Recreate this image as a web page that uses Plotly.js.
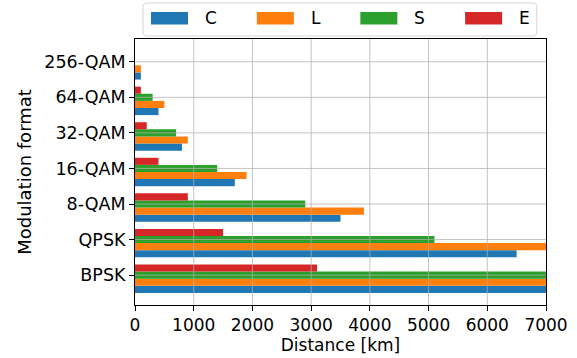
<!DOCTYPE html>
<html>
<head>
<meta charset="utf-8">
<script src="https://cdn.plot.ly/plotly-3.0.1.min.js"></script>
<style>
  html, body { margin: 0; padding: 0; background: #ffffff; }
  #chart { width: 577px; height: 358px; }
</style>
</head>
<body>
<div id="chart"></div>
<script>
// Reach distance per modulation format and transmission band
const formats = ['BPSK', 'QPSK', '8-QAM', '16-QAM', '32-QAM', '64-QAM', '256-QAM'];
const bandNames = ['C', 'L', 'S', 'E'];
const bandColors = ['#1f77b4', '#ff7f0e', '#2ca02c', '#d62728'];
const distC = [8000, 6500, 3500, 1700, 800, 400, 100];
const distL = [8000, 8000, 3900, 1900, 900, 500, 100];
const distS = [8000, 5100, 2900, 1400, 700, 300, 0];
const distE = [3100, 1500, 900, 400, 200, 100, 0];
const xTicks = [0, 1000, 2000, 3000, 4000, 5000, 6000, 7000];

const bandValues = [distC, distL, distS, distE];

const W = 577, H = 358;
const M = { l: 135, r: 31, t: 39, b: 53 };
const FONT = 'DejaVu Sans';
const FS = 17;
const xRange = [0, 7000];
const yRange = [-0.84, 6.64];
const barH = 0.2;

// pixel -> paper helpers (for the hand-laid legend above the axes)
const pw = W - M.l - M.r, ph = H - M.t - M.b;
const fx = px => (px - M.l) / pw;
const fy = py => (H - M.b - py) / ph;

const traces = bandNames.map((name, i) => ({
  type: 'bar',
  orientation: 'h',
  name: name,
  y: formats,
  x: bandValues[i],
  width: barH,
  offset: -0.5 + i * barH,
  marker: { color: bandColors[i], line: { width: 0 } },
  showlegend: false,
  hoverinfo: 'x+y+name'
}));

const shapes = [];
const annotations = [];

// grid drawn over the bars
const gridColor = 'rgba(176,176,176,0.75)';
xTicks.forEach(v => {
  if (v <= xRange[0] || v >= xRange[1]) return;
  shapes.push({ type: 'line', layer: 'above', xref: 'x', yref: 'paper',
    x0: v, x1: v, y0: 0, y1: 1, line: { color: gridColor, width: 1 } });
});
formats.forEach((f, k) => {
  shapes.push({ type: 'line', layer: 'above', xref: 'paper', yref: 'y',
    x0: 0, x1: 1, y0: k, y1: k, line: { color: gridColor, width: 1 } });
});

// legend: rounded frame first, then wide colour patches with labels
const ctx = document.createElement('canvas').getContext('2d');
ctx.font = FS + 'px "' + FONT + '"';
const patchW = 37, patchTop = 12, patchBot = 24.5, textGap = 15, colGap = 42;
const legendItems = [];
let cx = 151;
bandNames.forEach((name, i) => {
  const tx = cx + patchW + textGap;
  legendItems.push({ name: name, color: bandColors[i], px: cx, tx: tx });
  cx = tx + ctx.measureText(name).width + colGap;
});
const bx0 = 143, bx1 = cx - colGap + 9, by0 = 3, by1 = 36, rr = 4;
const rx = v => fx(v).toFixed(5), ry = v => fy(v).toFixed(5);
const framePath =
  'M' + rx(bx0 + rr) + ',' + ry(by0) +
  ' L' + rx(bx1 - rr) + ',' + ry(by0) +
  ' Q' + rx(bx1) + ',' + ry(by0) + ' ' + rx(bx1) + ',' + ry(by0 + rr) +
  ' L' + rx(bx1) + ',' + ry(by1 - rr) +
  ' Q' + rx(bx1) + ',' + ry(by1) + ' ' + rx(bx1 - rr) + ',' + ry(by1) +
  ' L' + rx(bx0 + rr) + ',' + ry(by1) +
  ' Q' + rx(bx0) + ',' + ry(by1) + ' ' + rx(bx0) + ',' + ry(by1 - rr) +
  ' L' + rx(bx0) + ',' + ry(by0 + rr) +
  ' Q' + rx(bx0) + ',' + ry(by0) + ' ' + rx(bx0 + rr) + ',' + ry(by0) + ' Z';
shapes.push({ type: 'path', layer: 'above', xref: 'paper', yref: 'paper',
  path: framePath, fillcolor: '#ffffff',
  line: { color: '#d4d4d4', width: 1 } });
legendItems.forEach(it => {
  shapes.push({ type: 'rect', layer: 'above', xref: 'paper', yref: 'paper',
    x0: fx(it.px), x1: fx(it.px + patchW), y0: fy(patchBot), y1: fy(patchTop),
    fillcolor: it.color, line: { width: 0 } });
  annotations.push({ xref: 'paper', yref: 'paper', x: fx(it.tx), y: fy(18.5),
    xanchor: 'left', yanchor: 'middle', showarrow: false, text: it.name,
    font: { family: FONT, size: FS, color: '#000000' } });
});

const layout = {
  width: W,
  height: H,
  margin: M,
  paper_bgcolor: '#ffffff',
  plot_bgcolor: '#ffffff',
  font: { family: FONT, size: FS, color: '#000000' },
  barmode: 'overlay',
  showlegend: false,
  xaxis: {
    range: xRange,
    tickvals: xTicks,
    ticktext: xTicks.map(String),
    showgrid: false,
    zeroline: false,
    showline: true,
    mirror: true,
    linecolor: '#000000',
    linewidth: 1,
    ticks: 'outside',
    ticklen: 5,
    tickwidth: 1,
    tickcolor: '#000000',
    tickfont: { family: FONT, size: FS, color: '#000000' },
    layer: 'above traces',
    automargin: false,
    title: { text: 'Distance [km]', font: { family: FONT, size: FS, color: '#000000' }, standoff: 4 }
  },
  yaxis: {
    type: 'category',
    categoryorder: 'array',
    categoryarray: formats,
    range: yRange,
    showgrid: false,
    zeroline: false,
    showline: true,
    mirror: true,
    linecolor: '#000000',
    linewidth: 1,
    ticks: 'outside',
    ticklen: 5,
    tickwidth: 1,
    tickcolor: '#000000',
    tickfont: { family: FONT, size: 17.5, color: '#000000' },
    layer: 'above traces',
    automargin: false,
    title: { text: 'Modulation format', font: { family: FONT, size: 18, color: '#000000' }, standoff: 7 }
  },
  shapes: shapes,
  annotations: annotations
};

Plotly.newPlot('chart', traces, layout, { staticPlot: true, displayModeBar: false });
</script>
</body>
</html>
